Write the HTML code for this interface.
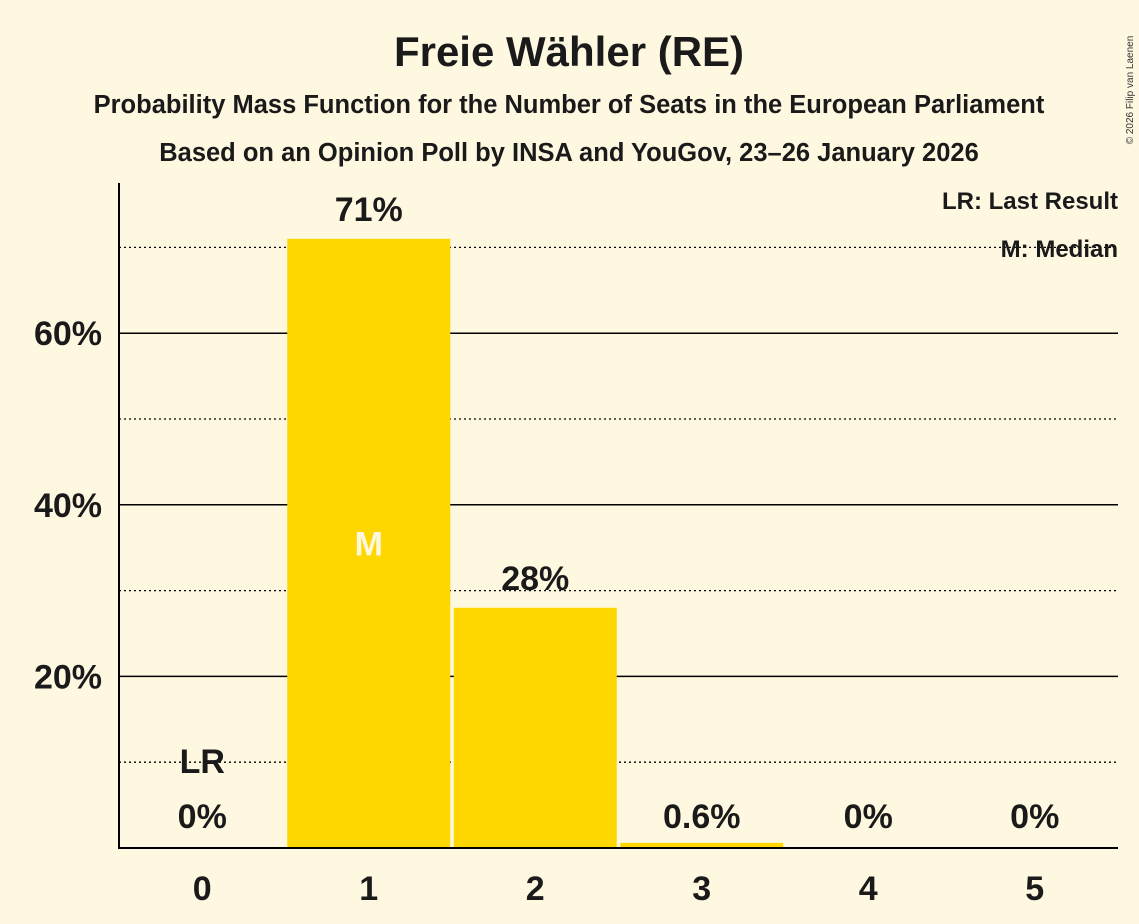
<!DOCTYPE html>
<html><head><meta charset="utf-8"><style>
body{margin:0;background:#fff8e1;}
svg{display:block;font-family:"Liberation Sans",sans-serif;font-weight:bold;}
</style></head><body>
<svg id="c" width="1139" height="924">
<rect width="1139" height="924" fill="#fff8e1"/>
<text x="569" y="66" font-size="42" text-anchor="middle" fill="#1a1a1a">Freie Wähler (RE)</text>
<text x="569" y="113" font-size="25.5" text-anchor="middle" fill="#1a1a1a">Probability Mass Function for the Number of Seats in the European Parliament</text>
<text x="569" y="161" font-size="25.5" text-anchor="middle" fill="#1a1a1a">Based on an Opinion Poll by INSA and YouGov, 23–26 January 2026</text>
<text x="1133" y="90" font-size="10" font-weight="normal" fill="#333" transform="rotate(-90 1133 90)" text-anchor="middle">© 2026 Filip van Laenen</text>
<g id="grid"></g>
<g id="bars"></g>
<g id="labels"></g>
<line x1="119" y1="183" x2="119" y2="849" stroke="#000" stroke-width="2"/>
<line x1="118" y1="848" x2="1118" y2="848" stroke="#000" stroke-width="2"/>
<text x="1118" y="209" font-size="24" text-anchor="end" fill="#1a1a1a">LR: Last Result</text>
<text x="1118" y="257" font-size="24" text-anchor="end" fill="#1a1a1a">M: Median</text>
</svg>
<script>
const categories=[0,1,2,3,4,5];
const values=[0,71,28,0.6,0,0];
const valueLabels=["0%","71%","28%","0.6%","0%","0%"];
const yTicks=[20,40,60];
const yMinor=[10,30,50,70];
const lastResult=0;
const median=1;
const NS="http://www.w3.org/2000/svg";
const x0=119,x1=1118,y0=848,pxPer=8.58;
const band=(x1-x0)/categories.length;
const xC=i=>x0+band*(i+0.5);
const yS=v=>y0-v*pxPer;
function mk(t,a,p){const e=document.createElementNS(NS,t);for(const k in a)e.setAttribute(k,a[k]);p.appendChild(e);return e;}
const grid=document.getElementById('grid'),bars=document.getElementById('bars'),labels=document.getElementById('labels');
yMinor.forEach(v=>{const l=mk('line',{x1:x0,x2:x1,y1:yS(v),y2:yS(v),stroke:'#000','stroke-width':1.3,'stroke-dasharray':'2,3'},grid);

});
yTicks.forEach(v=>{const l=mk('line',{x1:x0,x2:x1,y1:yS(v),y2:yS(v),stroke:'#000','stroke-width':1.5},grid);


const t=mk('text',{x:102,y:yS(v)+12,'font-size':34,'text-anchor':'end',fill:'#1a1a1a'},labels);t.textContent=v+'%';

});
categories.forEach((c,i)=>{
 const cx=xC(i),v=values[i];
 if(v>0){const r=mk('rect',{x:cx-81.5,width:163,y:yS(v),height:v*pxPer,fill:'#fed700'},bars);
 
 }
 const ly=v>5?yS(v)-18:yS(0)-20;
 const t=mk('text',{x:cx,y:ly,'font-size':34,'text-anchor':'middle',fill:'#1a1a1a'},labels);t.textContent=valueLabels[i];
 
 
 const xt=mk('text',{x:cx,y:900,'font-size':34,'text-anchor':'middle',fill:'#1a1a1a'},labels);xt.textContent=c;
 
 
 if(c===lastResult){const lr=mk('text',{x:cx,y:yS(0)-75,'font-size':34,'text-anchor':'middle',fill:'#1a1a1a'},labels);lr.textContent='LR';
 
 }
 if(c===median){const m=mk('text',{x:cx,y:yS(v/2)+12,'font-size':34,'text-anchor':'middle',fill:'#fff8e1'},labels);m.textContent='M';
 
 }
});
</script>
</body></html>
